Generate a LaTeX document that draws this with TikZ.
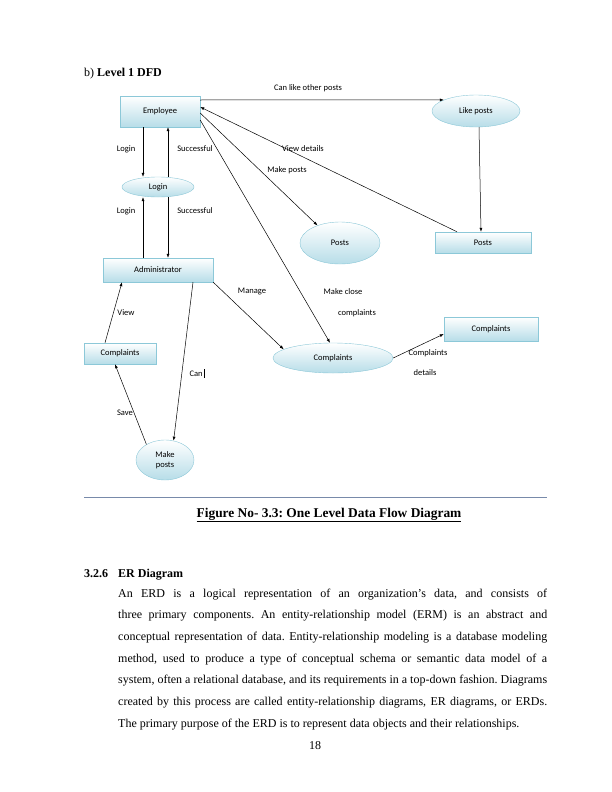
\documentclass[tikz,border=0pt]{standalone}
\usepackage{fontspec}
\setmainfont{Liberation Serif}
\newfontfamily\dfdfont{Carlito}
\usetikzlibrary{shapes.geometric,arrows.meta}
\definecolor{dfdcyan}{RGB}{183,221,232}
\definecolor{dfdedge}{RGB}{140,200,216}
\definecolor{rulecol}{RGB}{120,138,170}
\frenchspacing
\newcommand{\bodyline}[2]{\node[txt,anchor=base west] at (118,#1) {\makebox[429pt][s]{#2}};}

\begin{document}
\begin{tikzpicture}[x=1pt,y=-1pt,
  font=\dfdfont\fontsize{8.5}{10}\selectfont,
  store/.style={draw=dfdedge,top color=white,bottom color=dfdcyan,inner sep=0pt},
  proc/.style={ellipse,draw=dfdedge,top color=white,bottom color=dfdcyan,inner sep=0pt,align=center},
  flow/.style={-{Latex[length=4pt,width=3pt]},line width=0.5pt},
  lbl/.style={inner sep=0pt},
  txt/.style={font=\rmfamily\fontsize{12}{14}\selectfont,inner sep=0pt}]
  \fill[white] (0,0) rectangle (612,792);
  \useasboundingbox (0,0) rectangle (612,792);

  \node[txt,anchor=base west] (title) at (84,76) {b) \textbf{Level 1 DFD}};

  \node[store,minimum width=80pt,minimum height=31pt] (emp) at (160,111.5) {Employee};
  \node[proc,minimum width=88pt,minimum height=32pt] (like) at (476,111) {Like posts};
  \node[proc,minimum width=72pt,minimum height=20pt] (login) at (158,187) {Login};
  \node[proc,minimum width=80pt,minimum height=42pt] (posts) at (340,243) {Posts};
  \node[store,minimum width=96pt,minimum height=21pt] (postsdb) at (483,242.5) {Posts};
  \node[store,minimum width=110pt,minimum height=24pt] (admin) at (158,270) {Administrator};
  \node[store,minimum width=72pt,minimum height=21pt] (compll) at (120,353.5) {Complaints};
  \node[proc,minimum width=120pt,minimum height=30pt] (compl) at (333,358) {Complaints};
  \node[store,minimum width=94pt,minimum height=24pt] (complr) at (491,329) {Complaints};
  \node[proc,minimum width=58pt,minimum height=40pt] (mkp) at (165,460) {Make\\posts};

  \draw[flow] ([yshift=11.5pt]emp.east) -- (like.161);
  \draw[flow] ([xshift=3pt]like.south) -- ([xshift=-2pt]postsdb.north);
  \draw[flow] ([xshift=-17pt]emp.south) -- ([xshift=-15pt]login.north);
  \draw[flow] ([xshift=10pt]login.north) -- ([xshift=8pt]emp.south);
  \draw[flow] ([xshift=-15pt]admin.north) -- ([xshift=-15pt]login.south);
  \draw[flow] ([xshift=10pt]login.south) -- ([xshift=10pt]admin.north);
  \draw[flow] ([xshift=-26pt]postsdb.north) -- ([yshift=4.5pt]emp.east);
  \draw[flow] ([yshift=-1.5pt]emp.east) -- (posts.142);
  \draw[flow] ([yshift=-8.5pt]emp.east) -- ([xshift=-3pt]compl.north);
  \draw[flow] (admin.south east) -- (compl.170);
  \draw[flow] (compl.east) -- ([yshift=-5pt]complr.west);
  \draw[flow] ([xshift=-15pt]compll.north) -- ([xshift=-36pt]admin.south);
  \draw[flow] (mkp.140) -- ([xshift=-5pt]compll.south);
  \draw[flow] ([xshift=35pt]admin.south) -- (mkp.66);

  \node[lbl] (l1) at (308,88) {Can like other posts};
  \node[lbl] (l2) at (126,149) {Login};
  \node[lbl] (l3) at (195,149) {Successful};
  \node[lbl] (l4) at (126,211) {Login};
  \node[lbl] (l5) at (195,211) {Successful};
  \node[lbl] (l6) at (303,149) {View details};
  \node[lbl] (l7) at (287,170) {Make posts};
  \node[lbl] (l8) at (343,292) {Make close};
  \node[lbl] (l9) at (357,313) {complaints};
  \node[lbl] (l10) at (252,292) {Manage};
  \node[lbl] (l11) at (428,353) {Complaints};
  \node[lbl] (l12) at (425,373) {details};
  \node[lbl] (l13) at (126,313) {View};
  \node[lbl] (l14) at (125,413) {Save};
  \node[lbl] (l15) at (197,373) {Can\,\rule[-1.5pt]{0.5pt}{9pt}};

  \draw[rulecol,line width=0.8pt] (84,497) -- (547,497);
  \node[txt,font=\rmfamily\bfseries\fontsize{13.4}{15}\selectfont,anchor=base] (cap) at (329,517) {\underline{Figure No- 3.3: One Level Data Flow Diagram}};

  \node[txt,font=\rmfamily\bfseries\fontsize{12}{14}\selectfont,anchor=base west] (secno) at (84,577) {3.2.6};
  \node[txt,font=\rmfamily\bfseries\fontsize{12}{14}\selectfont,anchor=base west] (sec) at (118,577) {ER Diagram};
  \bodyline{597}{An ERD is a logical representation of an organization’s data, and consists of}
  \bodyline{618.7}{three primary components. An entity-relationship model (ERM) is an abstract and}
  \bodyline{640.4}{conceptual representation of data. Entity-relationship modeling is a database modeling}
  \bodyline{662.1}{method, used to produce a type of conceptual schema or semantic data model of a}
  \bodyline{683.8}{system, often a relational database, and its requirements in a top-down fashion. Diagrams}
  \bodyline{705.5}{created by this process are called entity-relationship diagrams, ER diagrams, or ERDs.}
  \node[txt,anchor=base west] (last) at (118,727.2) {The primary purpose of the ERD is to represent data objects and their relationships.};
  \node[txt,anchor=base] (page) at (315,749) {18};
\end{tikzpicture}
\end{document}
